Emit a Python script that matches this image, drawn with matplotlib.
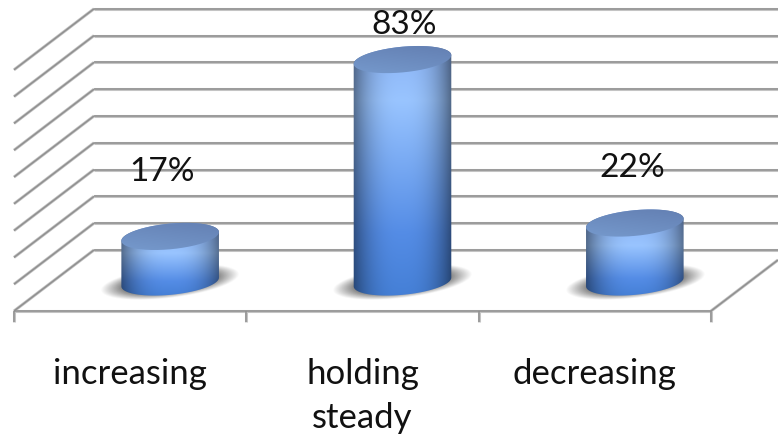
import numpy as np
import matplotlib
matplotlib.use("Agg")
import matplotlib.pyplot as plt
from matplotlib.patches import PathPatch, Polygon
from matplotlib.path import Path

categories = ["increasing", "holding\nsteady", "decreasing"]
values = [17, 83, 22]
value_labels = ["17%", "83%", "22%"]
grid_values = [0, 10, 20, 30, 40, 50, 60, 70, 80, 90]

# figure size and how many pixels one category / one percent take up
W, H = 778, 436
CAT_PX = 232.33
PCT_PX = 2.68
X0_PX = 14
BASE_PX = 282

plt.rcParams["font.family"] = ["Lato", "DejaVu Sans"]

fig = plt.figure(figsize=(W / 100, H / 100), dpi=100)
ax = fig.add_axes([0, 0, 1, 1])
ax.set_xlim(-X0_PX / CAT_PX, (W - X0_PX) / CAT_PX)
ax.set_ylim(-(H - BASE_PX) / PCT_PX, BASE_PX / PCT_PX)
ax.axis("off")


def dx(px):
    return px / CAT_PX


def dy(px):
    return px / PCT_PX


def gline(xs, ys):
    # soft grey line, a wide pale stroke under a thin darker one
    ax.plot(xs, ys, color="#c4c4c4", lw=2.2, solid_capstyle="butt", zorder=1)
    ax.plot(xs, ys, color="#909090", lw=1.1, solid_capstyle="butt", zorder=1.1)


# 3d box: floor offsets relative to the bar base plane
front = dy(-29)
back = dy(32)
depth = dx(80)
n_cat = len(categories)

for v in grid_values:
    gline([0, depth], [v + front, v + back])
    gline([depth, dx(W - X0_PX)], [v + back, v + back])

gline([0, n_cat], [front, front])
gline([n_cat, n_cat + dx(67)], [front, front + dy(51)])
for i in range(n_cat + 1):
    gline([i, i], [front, front - dy(11)])


def ellipse(cx, cy, a=49.0, b=12.8, tilt=5.5, n=240):
    # tilted ellipse in data units, sizes given in pixels
    t = np.linspace(0, 2 * np.pi, n, endpoint=False)
    phi = np.radians(tilt)
    x = a * np.cos(t) * np.cos(phi) - b * np.sin(t) * np.sin(phi)
    y = a * np.cos(t) * np.sin(phi) + b * np.sin(t) * np.cos(phi)
    return cx + dx(x), cy + dy(y)


def side_outline(cx, top):
    # lower half of the base ellipse joined to the upper half of the top one
    xb, yb = ellipse(cx, 0)
    xt, yt = ellipse(cx, top)
    i_r, i_l = np.argmax(xb), np.argmin(xb)
    ang = np.arange(len(xb))
    upper = np.r_[ang[i_r:], ang[:i_l + 1]] if i_r > i_l else ang[i_r:i_l + 1]
    lower = ang[i_l:i_r + 1] if i_r > i_l else np.r_[ang[i_l:], ang[:i_r + 1]]
    px = np.r_[xb[lower], xt[upper]]
    py = np.r_[yb[lower], yt[upper]]
    return np.column_stack([px, py])


def side_image(tall):
    # horizontal edge darkening on top of a vertical light-to-saturated ramp
    u = np.linspace(-1, 1, 200)
    t = np.linspace(0, 1, 300)
    stops = [0, 0.2, 0.42, 0.8, 1] if tall < 100 else [0, 0.06, 0.22, 0.75, 1]
    r = np.interp(t, stops, [0.47, 0.56, 0.60, 0.33, 0.27])
    g = np.interp(t, stops, [0.61, 0.72, 0.77, 0.55, 0.50])
    b = np.interp(t, stops, [0.84, 0.97, 1.00, 0.90, 0.84])
    shade = 1 - 0.48 * np.abs(u) ** 2.6
    img = np.zeros((300, 200, 3))
    img[..., 0] = r[:, None] * shade
    img[..., 1] = g[:, None] * shade
    img[..., 2] = b[:, None] * shade
    return img


def top_image():
    u = np.linspace(-1, 1, 200)
    v = np.linspace(-1, 1, 60)
    uu, vv = np.meshgrid(u, v)
    mix = np.clip(0.5 + 0.35 * vv - 0.15 * uu, 0, 1)[..., None]
    dark = np.array([0.39, 0.50, 0.70])
    light = np.array([0.46, 0.60, 0.80])
    return dark * (1 - mix) + light * mix


def shadow(cx):
    # blurred ground shadow under a bar, as an alpha-only image
    hw, hh = 85, 30
    xs = np.linspace(-hw, hw, 240)
    ys = np.linspace(-hh, hh, 84)
    xx, yy = np.meshgrid(xs, ys)
    phi = np.radians(7)
    xr = xx * np.cos(phi) + yy * np.sin(phi)
    yr = -xx * np.sin(phi) + yy * np.cos(phi)
    d = np.sqrt((xr / 70.0) ** 2 + (yr / 16.0) ** 2)
    img = np.zeros(xx.shape + (4,))
    img[..., :3] = 0.40
    img[..., 3] = 0.9 * np.clip((1.0 - d) / 0.35, 0, 1)
    ax.imshow(img, extent=(cx + dx(-hw), cx + dx(hw), dy(-hh), dy(hh)),
              origin="lower", aspect="auto", interpolation="bilinear", zorder=2)


# the bars stand mid-depth on the floor, so they sit right of their tick interval
bar_shift = dx(40)

for i, v in enumerate(values):
    cx = i + 0.5 + bar_shift
    shadow(cx)

    outline = side_outline(cx, v)
    clip = Polygon(outline, closed=True, fc="none", ec="none", transform=ax.transData)
    ax.add_patch(clip)
    im = ax.imshow(side_image(v * PCT_PX),
                   extent=(cx + dx(-50), cx + dx(50), dy(-14), v + dy(14)),
                   origin="upper", aspect="auto", interpolation="bilinear", zorder=3)
    im.set_clip_path(clip)

    xt, yt = ellipse(cx, v)
    cap = PathPatch(Path(np.column_stack([xt, yt]), closed=False),
                    fc="none", ec="none", transform=ax.transData)
    ax.add_patch(cap)
    im2 = ax.imshow(top_image(),
                    extent=(cx + dx(-50), cx + dx(50), v + dy(-14), v + dy(14)),
                    origin="upper", aspect="auto", interpolation="bilinear", zorder=4)
    im2.set_clip_path(cap)

# value labels sit above the bars, category labels centred under their interval
label_gap_px = [64, 35, 55]
label_shift_px = [-8, 2, -3]
for i, (v, lab) in enumerate(zip(values, value_labels)):
    ax.text(i + 0.5 + bar_shift + dx(label_shift_px[i]), v + dy(label_gap_px[i]), lab,
            ha="center", va="center", fontsize=24, color="#111111", zorder=6)

for i, lab in enumerate(categories):
    ax.text(i + 0.5, front - dy(47), lab, ha="center", va="top",
            fontsize=25, color="#111111", linespacing=1.45, zorder=6)

ax.set_xlim(-X0_PX / CAT_PX, (W - X0_PX) / CAT_PX)
ax.set_ylim(-(H - BASE_PX) / PCT_PX, BASE_PX / PCT_PX)

fig.savefig("out.png", dpi=100, facecolor="white")
